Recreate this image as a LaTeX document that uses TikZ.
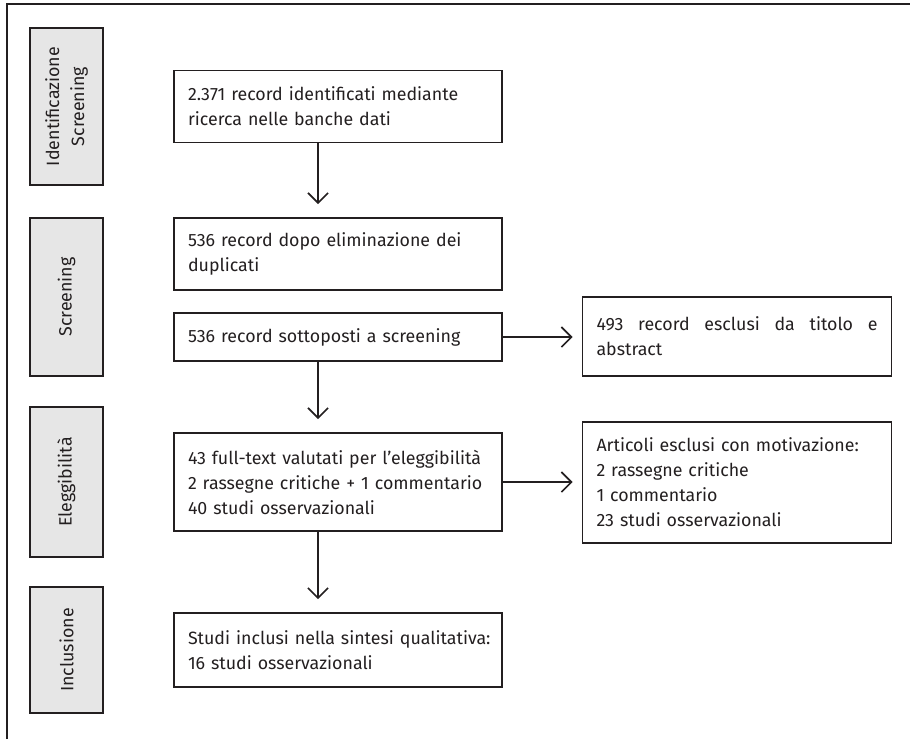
\documentclass[tikz,border=0pt]{standalone}
\usepackage{fontspec}
\setmainfont{Fira Sans}
\usetikzlibrary{arrows.meta}
\definecolor{ink}{HTML}{231F20}
\definecolor{barfill}{HTML}{E6E6E6}

\begin{document}
\begin{tikzpicture}[x=1pt,y=-1pt,
  every node/.style={font=\fontsize{17.8}{25}\selectfont, text=ink},
  box/.style={draw=ink, line width=1.7pt, rectangle, inner xsep=14pt, inner ysep=0pt},
  mainbox/.style={box, minimum width=328pt, text width=300pt, align=left},
  sidebox/.style={box, minimum width=309pt, text width=281pt},
  phase/.style={draw=ink, fill=barfill, line width=1.7pt, rectangle, rotate=90,
    minimum height=73pt, inner sep=0pt, align=center},
  arr/.style={draw=ink, line width=1.7pt, -{Straight Barb[length=10pt,width=20pt,line width=1.7pt]}}
]
\useasboundingbox (0,0) rectangle (910,739);

% outer frame (top and left rules)
\draw[ink, line width=1.6pt] (7,739) -- (7,4) -- (910,4);

% phase labels
\node[phase, minimum width=157pt] (p1) at (66.5,106.5) {Identificazione\\Screening};
\node[phase, minimum width=158pt] (p2) at (66.5,297) {Screening};
\node[phase, minimum width=150pt] (p3) at (66.5,482) {Eleggibilità};
\node[phase, minimum width=126pt] (p4) at (66.5,650) {Inclusione};

% main flow
\node[mainbox, minimum height=72pt] (b1) at (338,106.5) {2.371 record identificati mediante\\ricerca nelle banche dati};
\node[mainbox, minimum height=72pt] (b2) at (338,254) {536 record dopo eliminazione dei\\duplicati};
\node[mainbox, minimum height=48pt] (b3) at (338,337) {536 record sottoposti a screening};
\node[mainbox, minimum height=98pt] (b4) at (338,482) {\mbox{43 full-text valutati per l’eleggibilità}\\2 rassegne critiche + 1 commentario\\40 studi osservazionali};
\node[mainbox, minimum height=74pt] (b5) at (338,650) {\mbox{Studi inclusi nella sintesi qualitativa:}\\16 studi osservazionali};

% exclusions
\node[sidebox, minimum height=79pt, align=justify] (r1) at (737,336.5) {493 record esclusi da titolo e\linebreak abstract};
\node[sidebox, minimum height=121pt, align=left] (r2) at (737,482.5) {Articoli esclusi con motivazione:\\2 rassegne critiche\\1 commentario\\23 studi osservazionali};

% connectors
\draw[arr, shorten >=13pt] ([xshift=-20pt]b1.south) -- ([xshift=-20pt]b2.north);
\draw[arr, shorten >=13pt] ([xshift=-20pt]b3.south) -- ([xshift=-20pt]b4.north);
\draw[arr, shorten >=13pt] ([xshift=-20pt]b4.south) -- ([xshift=-20pt]b5.north);
\draw[arr, shorten >=9pt] (b3.east) -- (r1.west |- b3.east);
\draw[arr, shorten >=9pt] (b4.east) -- (r2.west |- b4.east);
\end{tikzpicture}
\end{document}
